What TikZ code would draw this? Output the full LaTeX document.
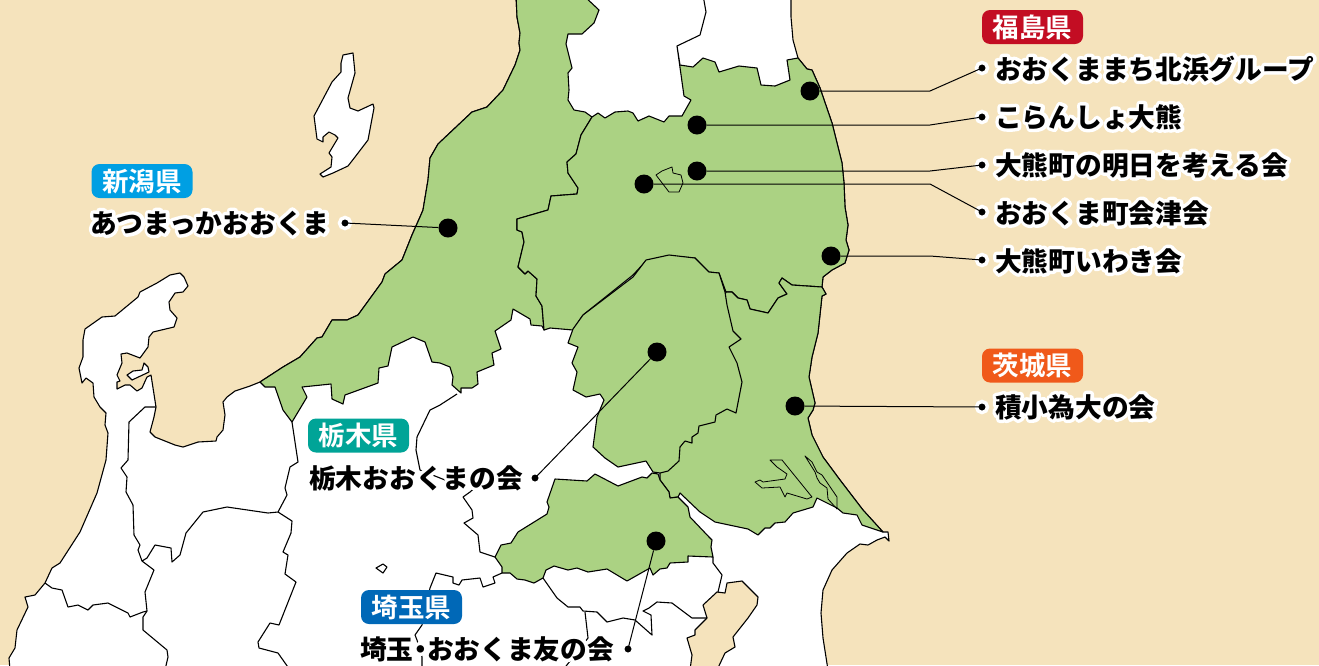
\documentclass[tikz,border=0pt]{standalone}
\usepackage{fontspec}
\newfontfamily\namefont{Noto Sans CJK JP Black}
\newfontfamily\badgefont{Noto Sans CJK JP Bold}
\newfontfamily\halofont{Noto Sans CJK JP Black}[FakeBold=26]
\definecolor{seacol}{HTML}{F5E3BC}
\definecolor{greencol}{HTML}{ABD283}
\definecolor{fukushimacol}{HTML}{C30D23}
\definecolor{niigatacol}{HTML}{009FE3}
\definecolor{ibarakicol}{HTML}{F0591A}
\definecolor{tochigicol}{HTML}{00A497}
\definecolor{saitamacol}{HTML}{0068B7}
\newcommand{\halotext}[1]{\special{pdf:code 1 j 1 J}\rlap{\textcolor{white}{\halofont #1}}\textcolor{black}{\namefont #1}}
\tikzset{
	border/.style={draw=black,line width=1.1pt,line join=round},
	pref/.style={border,fill=greencol},
	land/.style={border,fill=white},
	badge/.style={fill=#1,rounded corners=8pt,minimum width=101pt,minimum height=34pt,inner sep=0pt,text=white,font=\badgefont\fontsize{26.5}{30}\selectfont},
	nametext/.style={anchor=base west,inner sep=0pt,font=\fontsize{26.7}{30}\selectfont},
	mapdot/.style={circle,fill=black,minimum size=19pt,inner sep=0pt},
	tipdot/.style={circle,fill=black,draw=white,line width=3.5pt,minimum size=11pt,inner sep=0pt},
	leader/.style={draw=black,line width=1pt}
}
\begin{document}
\begin{tikzpicture}[x=1pt,y=-1pt]
	\useasboundingbox (0,0) rectangle (1319,665);
	\fill[seacol] (0,0) rectangle (1319,665);

	% land
	\draw[land] (10,670) -- (9,658) -- (15,648) -- (17,630) -- (28,607) -- (25,597) -- (35,595) -- (45,583) -- (52,568) -- (60,563) -- (80,532) -- (97,493) -- (106,460) -- (108,433) -- (105,425) -- (106,413) -- (100,407) -- (94,397) -- (93,383) -- (86,378) -- (82,383) -- (79,368) -- (83,357) -- (83,340) -- (85,329) -- (102,317) -- (115,316) -- (138,297) -- (140,292) -- (157,283) -- (170,275) -- (180,273) -- (184,277) -- (188,286) -- (183,292) -- (175,293) -- (169,302) -- (170,310) -- (177,318) -- (174,327) -- (153,332) -- (149,337) -- (148,347) -- (140,358) -- (127,353) -- (121,354) -- (122,363) -- (117,375) -- (120,381) -- (117,382) -- (117,389) -- (125,385) -- (130,385) -- (137,391) -- (142,388) -- (147,377) -- (151,375) -- (156,407) -- (154,417) -- (150,432) -- (155,437) -- (175,445) -- (183,447) -- (198,442) -- (216,441) -- (217,437) -- (223,430) -- (225,415) -- (223,402) -- (227,397) -- (235,391) -- (250,386) -- (260,382) -- (283,367) -- (300,357) -- (317,338) -- (322,337) -- (332,320) -- (347,320) -- (358,315) -- (382,282) -- (385,274) -- (402,260) -- (412,235) -- (420,217) -- (423,210) -- (428,180) -- (430,158) -- (438,144) -- (472,112) -- (487,107) -- (503,90) -- (515,65) -- (520,50) -- (519,43) -- (520,33) -- (517,17) -- (516,-5) -- (791,-5) -- (791,17) -- (793,40) -- (798,58) -- (807,69) -- (812,70) -- (820,88) -- (832,123) -- (842,163) -- (844,183) -- (845,207) -- (848,225) -- (846,240) -- (849,250) -- (845,263) -- (832,270) -- (823,277) -- (822,287) -- (826,294) -- (822,296) -- (818,333) -- (812,357) -- (809,377) -- (815,403) -- (813,410) -- (808,418) -- (812,435) -- (823,457) -- (840,480) -- (863,510) -- (883,532) -- (888,532) -- (889,541) -- (885,537) -- (877,540) -- (868,545) -- (860,544) -- (847,553) -- (832,570) -- (823,590) -- (821,613) -- (823,638) -- (828,670) -- cycle;
	\draw[land] (127,375) -- (133,371) -- (142,370) -- (144,363) -- (148,367) -- (149,372) -- (132,380) -- cycle;
	\draw[land] (343,55) -- (353,53) -- (355,73) -- (348,98) -- (350,108) -- (358,111) -- (373,104) -- (374,108) -- (368,140) -- (355,157) -- (348,166) -- (333,173) -- (323,177) -- (320,174) -- (331,167) -- (332,157) -- (329,153) -- (338,138) -- (335,135) -- (329,132) -- (323,137) -- (323,142) -- (317,139) -- (314,116) -- (332,82) -- (341,72) -- (341,63) -- cycle;
	\draw[land] (376,568) -- (383,564) -- (387,567) -- (383,573) -- cycle;
	\draw[border,fill=seacol] (727,583) -- (742,581) -- (758,597) -- (757,605) -- (748,618) -- (733,637) -- (735,647) -- (725,653) -- (717,670) -- (690,670) -- (692,655) -- (687,638) -- (695,635) -- (695,630) -- (707,618) -- (703,605) -- (717,592) -- (725,593) -- cycle;

	% plain borders
	\draw[border] (156,407) -- (145,407) -- (129,422) -- (128,460) -- (121,468) -- (127,477) -- (126,492) -- (133,505) -- (134,535) -- (140,545) -- (138,550) -- (142,561) -- (154,570) -- (145,592) -- (147,611) -- (143,617) -- (143,630) -- (167,650) -- (168,657) -- (165,670);
	\draw[border] (292,422) -- (298,462) -- (290,467) -- (285,488) -- (287,495) -- (278,512) -- (268,513) -- (227,507) -- (203,512) -- (186,533) -- (180,555) -- (172,562) -- (171,548) -- (155,545) -- (147,558) -- (142,561);
	\draw[border] (278,512) -- (292,521) -- (291,533) -- (283,552) -- (288,555) -- (285,574) -- (296,582) -- (279,625) -- (270,623) -- (258,642) -- (259,648) -- (278,653) -- (290,670);
	\draw[border] (45,583) -- (52,588) -- (62,590) -- (68,607) -- (78,605) -- (88,610) -- (93,605) -- (108,603) -- (128,613) -- (130,617) -- (143,612) -- (147,611);
	\draw[border] (457,394) -- (440,405) -- (430,410) -- (417,437) -- (416,450) -- (420,470) -- (445,480) -- (478,485) -- (470,492) -- (463,497) -- (472,510) -- (473,518) -- (464,523) -- (478,535) -- (480,552) -- (495,557);
	\draw[border] (502,573) -- (493,577) -- (495,583) -- (483,587) -- (480,578) -- (462,580) -- (459,585) -- (453,583) -- (453,577) -- (436,573) -- (430,588) -- (422,625) -- (415,635) -- (417,640) -- (422,657) -- (422,670);
	\draw[border] (543,578) -- (557,598) -- (568,607) -- (580,607) -- (583,611) -- (597,612) -- (607,622) -- (623,618) -- (635,620) -- (652,635) -- (651,615) -- (643,611) -- (649,608) -- (657,602) -- (672,603) -- (692,618) -- (707,618);
	\draw[border] (585,612) -- (588,638) -- (563,670);
	\draw[border] (713,557) -- (713,563) -- (722,575) -- (718,592);
	\draw[border] (677,46) -- (700,35) -- (706,12) -- (703,-5);

	% green prefectures
	\draw[pref] (260,382) -- (283,367) -- (300,357) -- (317,338) -- (322,337) -- (332,320) -- (347,320) -- (358,315) -- (382,282) -- (385,274) -- (402,260) -- (412,235) -- (420,217) -- (423,210) -- (428,180) -- (430,158) -- (438,144) -- (472,112) -- (487,107) -- (503,90) -- (515,65) -- (520,50) -- (519,43) -- (520,33) -- (517,17) -- (516,-5) -- (583,-5) -- (599,10) -- (594,23) -- (582,34) -- (568,34) -- (566,44) -- (572,68) -- (568,73) -- (569,90) -- (568,100) -- (574,110) -- (585,112) -- (592,117) -- (581,135) -- (576,154) -- (567,162) -- (568,173) -- (578,188) -- (577,194) -- (551,196) -- (548,210) -- (517,219) -- (517,230) -- (522,232) -- (524,242) -- (518,267) -- (525,274) -- (528,271) -- (537,279) -- (536,296) -- (542,306) -- (544,330) -- (542,326) -- (531,325) -- (530,319) -- (513,309) -- (511,320) -- (495,331) -- (501,349) -- (492,353) -- (494,365) -- (477,372) -- (478,384) -- (472,388) -- (461,388) -- (461,393) -- (452,385) -- (453,377) -- (450,367) -- (440,363) -- (432,362) -- (425,342) -- (413,337) -- (392,347) -- (388,366) -- (379,368) -- (378,383) -- (345,395) -- (343,404) -- (332,399) -- (331,384) -- (302,387) -- (307,397) -- (292,422) -- (283,410) -- (275,387) -- (265,387) -- cycle;
	\draw[pref] (592,117) -- (598,113) -- (605,118) -- (615,112) -- (628,111) -- (633,113) -- (638,121) -- (649,116) -- (664,122) -- (669,116) -- (682,116) -- (691,100) -- (684,96) -- (677,46) -- (680,65) -- (693,67) -- (703,58) -- (715,62) -- (719,72) -- (739,66) -- (757,68) -- (761,85) -- (775,86) -- (790,80) -- (787,60) -- (798,58) -- (807,69) -- (812,70) -- (820,88) -- (832,123) -- (842,163) -- (844,183) -- (845,207) -- (848,225) -- (846,240) -- (849,250) -- (845,263) -- (832,270) -- (823,277) -- (822,287) -- (792,285) -- (782,278) -- (779,283) -- (787,294) -- (778,298) -- (768,313) -- (750,309) -- (747,300) -- (738,298) -- (732,292) -- (726,292) -- (719,273) -- (708,272) -- (695,258) -- (668,256) -- (646,261) -- (633,275) -- (583,315) -- (573,330) -- (550,328) -- (544,330) -- (542,306) -- (536,296) -- (537,279) -- (528,271) -- (525,274) -- (518,267) -- (524,242) -- (522,232) -- (517,230) -- (517,219) -- (548,210) -- (551,196) -- (577,194) -- (578,188) -- (568,173) -- (567,162) -- (576,154) -- (581,135) -- cycle;
	\draw[border,line width=.8pt] (656,175) -- (662,171) -- (672,167) -- (673,173) -- (681,175) -- (683,183) -- (679,192) -- (669,192) -- cycle;
	\draw[pref] (726,292) -- (732,292) -- (738,298) -- (747,300) -- (750,309) -- (768,313) -- (778,298) -- (787,294) -- (779,283) -- (782,278) -- (792,285) -- (822,287) -- (826,294) -- (822,296) -- (818,333) -- (812,357) -- (809,377) -- (815,403) -- (813,410) -- (808,418) -- (812,435) -- (823,457) -- (840,480) -- (863,510) -- (883,532) -- (862,525) -- (857,515) -- (843,513) -- (837,508) -- (817,498) -- (813,507) -- (793,513) -- (785,522) -- (775,523) -- (770,528) -- (765,528) -- (758,535) -- (748,529) -- (715,522) -- (700,512) -- (680,493) -- (678,497) -- (670,498) -- (669,492) -- (660,480) -- (660,473) -- cycle;
	\draw[pref] (573,329) -- (583,315) -- (633,277) -- (646,260) -- (669,255) -- (695,258) -- (709,272) -- (719,273) -- (725,292) -- (727,305) -- (733,331) -- (741,339) -- (729,347) -- (737,363) -- (742,382) -- (736,413) -- (727,409) -- (716,415) -- (715,422) -- (699,426) -- (698,433) -- (692,437) -- (692,443) -- (685,441) -- (680,447) -- (679,461) -- (668,471) -- (660,473) -- (653,472) -- (646,461) -- (618,467) -- (605,458) -- (593,447) -- (597,417) -- (604,400) -- (600,394) -- (586,397) -- (573,390) -- (577,372) -- (572,363) -- (578,347) -- (568,343) -- cycle;
	\draw[pref] (555,479) -- (587,481) -- (595,474) -- (618,486) -- (642,477) -- (647,478) -- (652,473) -- (658,474) -- (660,480) -- (669,492) -- (670,498) -- (678,497) -- (688,507) -- (690,517) -- (709,537) -- (712,540) -- (711,547) -- (713,557) -- (688,556) -- (688,562) -- (670,563) -- (667,568) -- (660,569) -- (653,575) -- (650,568) -- (627,581) -- (607,569) -- (588,572) -- (577,568) -- (568,570) -- (554,566) -- (546,570) -- (543,578) -- (534,583) -- (525,580) -- (517,579) -- (510,573) -- (502,573) -- (502,567) -- (495,557) -- (501,545) -- (511,543) -- (518,532) -- (547,514) -- (549,507) -- (547,502) -- cycle;
	\draw[border,line width=.8pt] (770,460) -- (782,460) -- (812,497) -- (807,499) -- (787,493) -- (785,497) -- (780,487) -- (762,488) -- (755,482) -- (760,480) -- (763,482) -- (785,479) -- (787,474) -- (777,467) -- cycle;
	\draw[border,line width=.8pt] (805,456) -- (812,462) -- (817,472) -- (822,475) -- (837,497) -- (837,509) -- (828,499) -- (827,488) -- (820,483) -- (817,478) -- (815,472) -- cycle;

	% badges
	\node[badge=fukushimacol] (fukushima) at (1032.5,27) {福島県};
	\node[badge=niigatacol] (niigata) at (142,181) {新潟県};
	\node[badge=ibarakicol] (ibaraki) at (1032.5,365.5) {茨城県};
	\node[badge=tochigicol] (tochigi) at (358.5,435.5) {栃木県};
	\node[badge=saitamacol] (saitama) at (411.5,607) {埼玉県};

	% names
	\node[nametext] (kitahama) at (995,79) {\halotext{おおくままち北浜グループ}};
	\node[nametext] (koransho) at (995,127) {\halotext{こらんしょ大熊}};
	\node[nametext] (ashita) at (995,175) {\halotext{大熊町の明日を考える会}};
	\node[nametext] (aizu) at (995,223) {\halotext{おおくま町会津会}};
	\node[nametext] (iwaki) at (995,271) {\halotext{大熊町いわき会}};
	\node[nametext] (sekisho) at (995,417) {\halotext{積小為大の会}};
	\node[nametext] (atsumakka) at (90,233) {\halotext{あつまっかおおくま}};
	\node[nametext] (tochigikai) at (309,488) {\halotext{栃木おおくまの会}};
	\node[nametext] (tomonokai) at (360,659) {\halotext{埼玉\makebox[13.5pt][c]{・}おおくま友の会}};

	% dots on the map
	\node[mapdot] (mapkitahama) at (810,91) {};
	\node[mapdot] (mapkoransho) at (697,125) {};
	\node[mapdot] (mapashita) at (697,171) {};
	\node[mapdot] (mapaizu) at (644,184) {};
	\node[mapdot] (mapiwaki) at (831,256) {};
	\node[mapdot] (mapsekisho) at (795,406) {};
	\node[mapdot] (mapatsumakka) at (448,228) {};
	\node[mapdot] (maptochigi) at (657,352) {};
	\node[mapdot] (maptomo) at (656,541) {};

	% dots beside the names
	\node[tipdot] (tipkitahama) at (982,68) {};
	\node[tipdot] (tipkoransho) at (982,117) {};
	\node[tipdot] (tipashita) at (982,165) {};
	\node[tipdot] (tipaizu) at (982,212) {};
	\node[tipdot] (tipiwaki) at (982,260) {};
	\node[tipdot] (tipsekisho) at (982,407) {};
	\node[tipdot] (tipatsumakka) at (345,223) {};
	\node[tipdot] (tiptochigi) at (535,478) {};
	\node[tipdot] (tiptomo) at (628,649) {};

	\coordinate (bendkitahama) at (930,91);
	\coordinate (bendkoransho) at (930,125);
	\coordinate (bendashita) at (930,171);
	\coordinate (bendaizu) at (930,184);
	\coordinate (bendiwaki) at (930,256);

	% leaders
	\draw[leader] (mapkitahama) -- (bendkitahama) -- (tipkitahama.center);
	\draw[leader] (mapkoransho) -- (bendkoransho) -- (tipkoransho.center);
	\draw[leader] (mapashita) -- (bendashita) -- (tipashita.center);
	\draw[leader] (mapaizu) -- (bendaizu) -- (tipaizu.center);
	\draw[leader] (mapiwaki) -- (bendiwaki) -- (tipiwaki.center);
	\draw[leader] (mapsekisho) -- (tipsekisho.center);
	\draw[leader] (mapatsumakka) -- (tipatsumakka.center);
	\draw[leader] (maptochigi) -- (tiptochigi.center);
	\draw[leader] (maptomo) -- (tiptomo.center);
\end{tikzpicture}
\end{document}
